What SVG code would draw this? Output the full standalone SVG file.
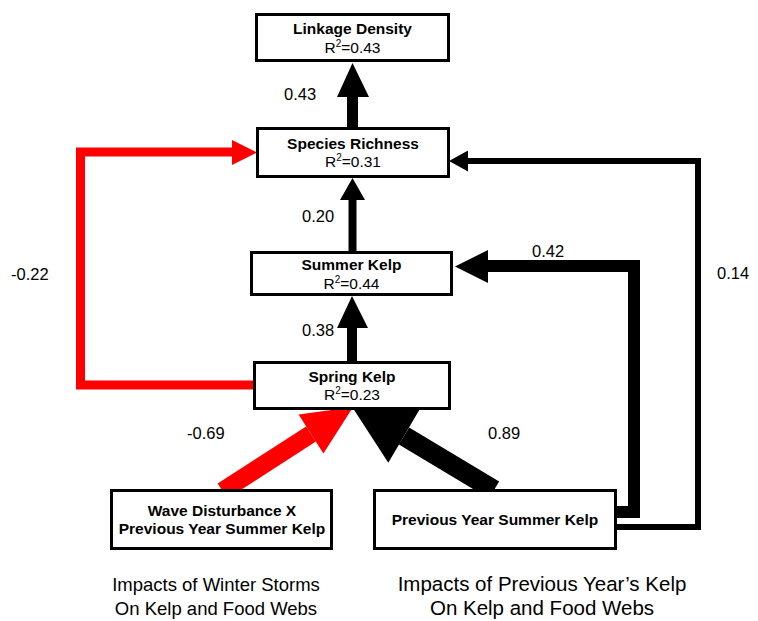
<svg xmlns="http://www.w3.org/2000/svg" width="758" height="621" viewBox="0 0 758 621">
<style>
text{font-family:"Liberation Sans",Arial,sans-serif;fill:#000}
.box{fill:#fff;stroke:#000;stroke-width:3}
.t{font-size:15.5px;font-weight:bold;text-anchor:middle}
.r{font-size:15.5px;text-anchor:middle}
.sup{font-size:10px}
.lbl{font-size:16.5px}
.cap{font-size:18.5px;text-anchor:middle}
.cap2{font-size:20.5px;text-anchor:middle}
.blk{fill:none;stroke:#000;stroke-linejoin:miter}
.red{fill:none;stroke:#f00;stroke-linejoin:miter}
</style>
<rect width="758" height="621" fill="#fff"/>
<g id="connectors">
  <!-- Species Richness -> Linkage Density -->
  <line x1="352.5" y1="127" x2="352.5" y2="96" stroke="#000" stroke-width="11"/>
  <polygon points="337,97 352.5,63 369,97" fill="#000"/>
  <!-- Summer Kelp -> Species Richness -->
  <line x1="352.5" y1="251" x2="352.5" y2="199" stroke="#000" stroke-width="8"/>
  <polygon points="340,200 352.5,178 365,200" fill="#000"/>
  <!-- Spring Kelp -> Summer Kelp -->
  <line x1="352" y1="362" x2="352" y2="327" stroke="#000" stroke-width="10"/>
  <polygon points="337,328 352,296 368,328" fill="#000"/>
  <!-- Spring Kelp -> Species Richness (red) -->
  <path class="red" d="M253,385 H80.5 V152 H233" stroke-width="9"/>
  <polygon points="232,140 257,152.5 232,165" fill="#f00"/>
  <!-- Previous Year -> Summer Kelp -->
  <path class="blk" d="M616,512 H634 V266 H487" stroke-width="12"/>
  <polygon points="488,250 455,266.5 488,283" fill="#000"/>
  <!-- Previous Year -> Species Richness -->
  <path class="blk" d="M616,527 H698 V161 H467" stroke-width="6"/>
  <polygon points="468,150.5 449,161 468,171.5" fill="#000"/>
  <!-- Wave Disturbance -> Spring Kelp (red) -->
  <line x1="222.5" y1="491" x2="311" y2="434" stroke="#f00" stroke-width="18"/>
  <polygon points="298.6,414.6 353.1,407 323.4,453.4" fill="#f00"/>
  <!-- Previous Year -> Spring Kelp -->
  <line x1="494" y1="490" x2="404" y2="436" stroke="#000" stroke-width="20"/>
  <polygon points="419.7,409.3 350.6,404.6 388.3,462.7" fill="#000"/>
  <!-- labels -->
  <text class="lbl" x="284" y="100">0.43</text>
  <text class="lbl" x="302" y="222">0.20</text>
  <text class="lbl" x="302" y="336">0.38</text>
  <text class="lbl" x="11" y="280">-0.22</text>
  <text class="lbl" x="717" y="279">0.14</text>
  <text class="lbl" x="532" y="257">0.42</text>
  <text class="lbl" x="187" y="439">-0.69</text>
  <text class="lbl" x="488" y="439">0.89</text>
</g>
<g id="linkage-density">
  <rect class="box" x="256.5" y="14.5" width="192" height="46"/>
  <text class="t" x="352.5" y="34">Linkage Density</text>
  <text class="r" x="352.5" y="53">R<tspan class="sup" dy="-6">2</tspan><tspan dy="6">=0.43</tspan></text>
</g>
<g id="species-richness">
  <rect class="box" x="257.5" y="128.5" width="191" height="48"/>
  <text class="t" x="353" y="149">Species Richness</text>
  <text class="r" x="353" y="167">R<tspan class="sup" dy="-6">2</tspan><tspan dy="6">=0.31</tspan></text>
</g>
<g id="summer-kelp">
  <rect class="box" x="251.5" y="252.5" width="200" height="42"/>
  <text class="t" x="351.5" y="270">Summer Kelp</text>
  <text class="r" x="351.5" y="289">R<tspan class="sup" dy="-6">2</tspan><tspan dy="6">=0.44</tspan></text>
</g>
<g id="spring-kelp">
  <rect class="box" x="254.5" y="362.5" width="195" height="46"/>
  <text class="t" x="352" y="382">Spring Kelp</text>
  <text class="r" x="352" y="400">R<tspan class="sup" dy="-6">2</tspan><tspan dy="6">=0.23</tspan></text>
</g>
<g id="wave-disturbance">
  <rect class="box" x="111.5" y="490.5" width="220" height="58"/>
  <text class="t" x="222" y="516">Wave Disturbance X</text>
  <text class="t" x="222" y="534">Previous Year Summer Kelp</text>
</g>
<g id="previous-year-summer-kelp">
  <rect class="box" x="374.5" y="490.5" width="241" height="58"/>
  <text class="t" x="495" y="525">Previous Year Summer Kelp</text>
</g>
<g id="captions">
  <text class="cap" x="216" y="591">Impacts of Winter Storms</text>
  <text class="cap" x="216" y="615">On Kelp and Food Webs</text>
  <text class="cap2" x="542" y="591">Impacts of Previous Year’s Kelp</text>
  <text class="cap2" x="542" y="615">On Kelp and Food Webs</text>
</g>
</svg>
